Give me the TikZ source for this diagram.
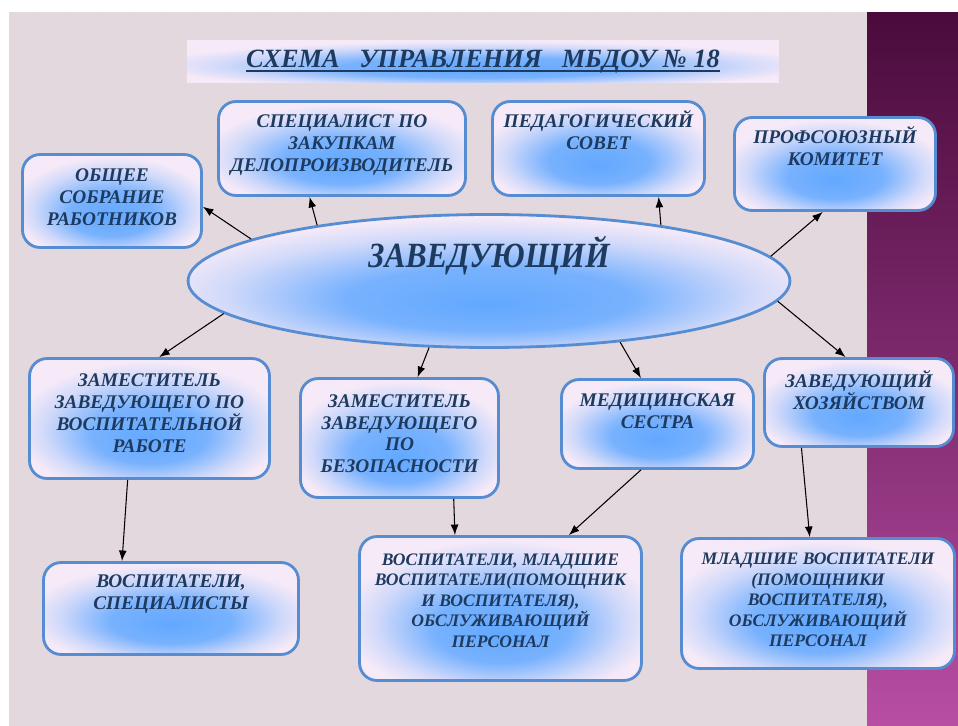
\documentclass[tikz,border=0pt]{standalone}
\usepackage{fontspec}
\setmainfont{Liberation Serif}
\usepackage{tikz}
\usetikzlibrary{calc,arrows.meta,shapes.geometric}

\definecolor{pagebg}{HTML}{DBCFD5}
\definecolor{tile}{HTML}{E3D8DE}
\definecolor{boxline}{HTML}{568CD2}
\definecolor{boxpink}{HTML}{F6EAF8}
\definecolor{glowblue}{HTML}{62A8FF}
\definecolor{navy}{HTML}{1E3A5E}
\definecolor{plumtop}{HTML}{4A0B3B}
\definecolor{plummid}{HTML}{7E2A6E}
\definecolor{plumbot}{HTML}{B84EA4}

\newcommand{\uln}[1]{\setbox0\hbox{#1}\rlap{\rule[-2.6pt]{\wd0}{1.1pt}}\box0}

\pgfdeclareradialshading{glow}{\pgfpoint{0bp}{-9bp}}{color(0bp)=(glowblue); color(12bp)=(glowblue!85!boxpink); color(22bp)=(boxpink!75!glowblue); color(28bp)=(boxpink); color(50bp)=(boxpink)}

\tikzset{
    every node/.style={font=\bfseries\itshape, text=navy},
    main node/.style={draw=boxline,line width=1.6pt,rounded corners=10pt,shading=glow,align=center,inner sep=0pt,font=\bfseries\itshape\fontsize{11}{12.5}\selectfont},
    small node/.style={main node,font=\bfseries\itshape\fontsize{10}{11.7}\selectfont},
    head node/.style={ellipse,draw=boxline,line width=1.6pt,shading=glow,inner sep=0pt,font=\bfseries\itshape\fontsize{18}{22}\selectfont},
    title node/.style={shading=glow,inner sep=0pt,font=\bfseries\itshape\fontsize{15}{18}\selectfont}
}

\begin{document}
\begin{tikzpicture}[->,>={Latex[length=6pt,width=4.5pt]},semithick,x=0.02cm,y=-0.02cm]

    % background
    \begin{scope}[-]
    \useasboundingbox (0,0) rectangle (958,726);
    \fill[white] (0,0) rectangle (958,726);
    \fill[pagebg] (9,13) rectangle (867,726);
    \clip (9,13) rectangle (867,726);
    \foreach \i in {0,...,27} {
        \foreach \j in {0,...,22} {
            \fill[tile] (33*\i,33*\j) +(0,-16.5) -- +(16.5,0) -- +(0,16.5) -- +(-16.5,0) -- cycle;
            \fill[tile] (33*\i+16.5,33*\j+16.5) +(0,-16.5) -- +(16.5,0) -- +(0,16.5) -- +(-16.5,0) -- cycle;
        }
    }
    \end{scope}
    \shade[top color=plumtop,bottom color=plumbot,middle color=plummid] (867,13) rectangle (958,726);

    \node[title node, minimum width=11.84cm, minimum height=0.86cm] (0) at (483,61.5) {\uln{СХЕМА~~~УПРАВЛЕНИЯ~~~МБДОУ~№~18}};

    \node[head node, minimum width=12.04cm, minimum height=2.66cm] (1) at (489,281) {\scalebox{1}[1.12]{ЗАВЕДУЮЩИЙ}\rule[-33pt]{0pt}{0pt}};

    \node[main node, minimum width=3.58cm, minimum height=1.86cm] (2) at (112,201) {ОБЩЕЕ\\СОБРАНИЕ\\РАБОТНИКОВ\rule[-4pt]{0pt}{0pt}};
    \node[main node, minimum width=4.94cm, minimum height=1.88cm] (3) at (342,148.5) {СПЕЦИАЛИСТ ПО\\ЗАКУПКАМ\\ДЕЛОПРОИЗВОДИТЕЛЬ\rule[-6pt]{0pt}{0pt}};
    \node[main node, minimum width=4.24cm, minimum height=1.88cm] (4) at (598.5,148.5) {ПЕДАГОГИЧЕСКИЙ\\СОВЕТ\rule[-21pt]{0pt}{0pt}};
    \node[main node, minimum width=4.02cm, minimum height=1.86cm] (5) at (835,164) {ПРОФСОЮЗНЫЙ\\КОМИТЕТ\rule[-20pt]{0pt}{0pt}};

    \node[main node, minimum width=4.80cm, minimum height=2.40cm] (6) at (149.5,418.5) {ЗАМЕСТИТЕЛЬ\\ЗАВЕДУЮЩЕГО ПО\\ВОСПИТАТЕЛЬНОЙ\\РАБОТЕ\rule[-6pt]{0pt}{0pt}};
    \node[main node, minimum width=3.96cm, minimum height=2.38cm] (7) at (399.5,438) {ЗАМЕСТИТЕЛЬ\\ЗАВЕДУЮЩЕГО\\ПО\\БЕЗОПАСНОСТИ\rule[-5pt]{0pt}{0pt}};
    \node[main node, minimum width=3.84cm, minimum height=1.78cm] (8) at (657.5,424) {МЕДИЦИНСКАЯ\\СЕСТРА\rule[-15pt]{0pt}{0pt}};
    \node[main node, minimum width=3.78cm, minimum height=1.76cm] (9) at (859,402.5) {ЗАВЕДУЮЩИЙ\\ХОЗЯЙСТВОМ\rule[-14pt]{0pt}{0pt}};

    \node[main node, minimum width=5.10cm, minimum height=1.84cm] (10) at (171,608.5) {ВОСПИТАТЕЛИ,\\СПЕЦИАЛИСТЫ\rule[-19pt]{0pt}{0pt}};
    \node[small node, minimum width=5.64cm, minimum height=2.88cm] (11) at (500.5,608.5) {ВОСПИТАТЕЛИ, МЛАДШИЕ\\ВОСПИТАТЕЛИ(ПОМОЩНИК\\И ВОСПИТАТЕЛЯ),\\ОБСЛУЖИВАЮЩИЙ\\ПЕРСОНАЛ\rule[-9pt]{0pt}{0pt}};
    \node[small node, minimum width=5.46cm, minimum height=2.60cm] (12) at (818,603.5) {МЛАДШИЕ ВОСПИТАТЕЛИ\\(ПОМОЩНИКИ\\ВОСПИТАТЕЛЯ),\\ОБСЛУЖИВАЮЩИЙ\\ПЕРСОНАЛ\rule[-4pt]{0pt}{0pt}};

    % from the head upwards
    \draw (1.170) -- ($(2.north east)!.56!(2.south east)$);
    \draw (1.162) -- ($(3.south west)!.37!(3.south east)$);
    \draw (1.18) -- ($(4.south west)!.78!(4.south east)$);
    \draw (1.5) -- ($(5.south west)!.44!(5.south east)$);

    % from the head downwards
    \draw (1.187) -- ($(6.north west)!.54!(6.north east)$);
    \draw (1.228) -- ($(7.north west)!.59!(7.north east)$);
    \draw (1.335) -- ($(8.north west)!.415!(8.north east)$);
    \draw (1.356) -- ($(9.north west)!.43!(9.north east)$);

    % lower level
    \draw ($(6.south west)!.41!(6.south east)$) -- ($(10.north west)!.31!(10.north east)$);
    \draw ($(7.south west)!.77!(7.south east)$) -- ($(11.north west)!.34!(11.north east)$);
    \draw ($(8.south west)!.415!(8.south east)$) -- ($(11.north west)!.74!(11.north east)$);
    \draw ($(9.south west)!.2!(9.south east)$) -- ($(12.north west)!.47!(12.north east)$);

\end{tikzpicture}
\end{document}
